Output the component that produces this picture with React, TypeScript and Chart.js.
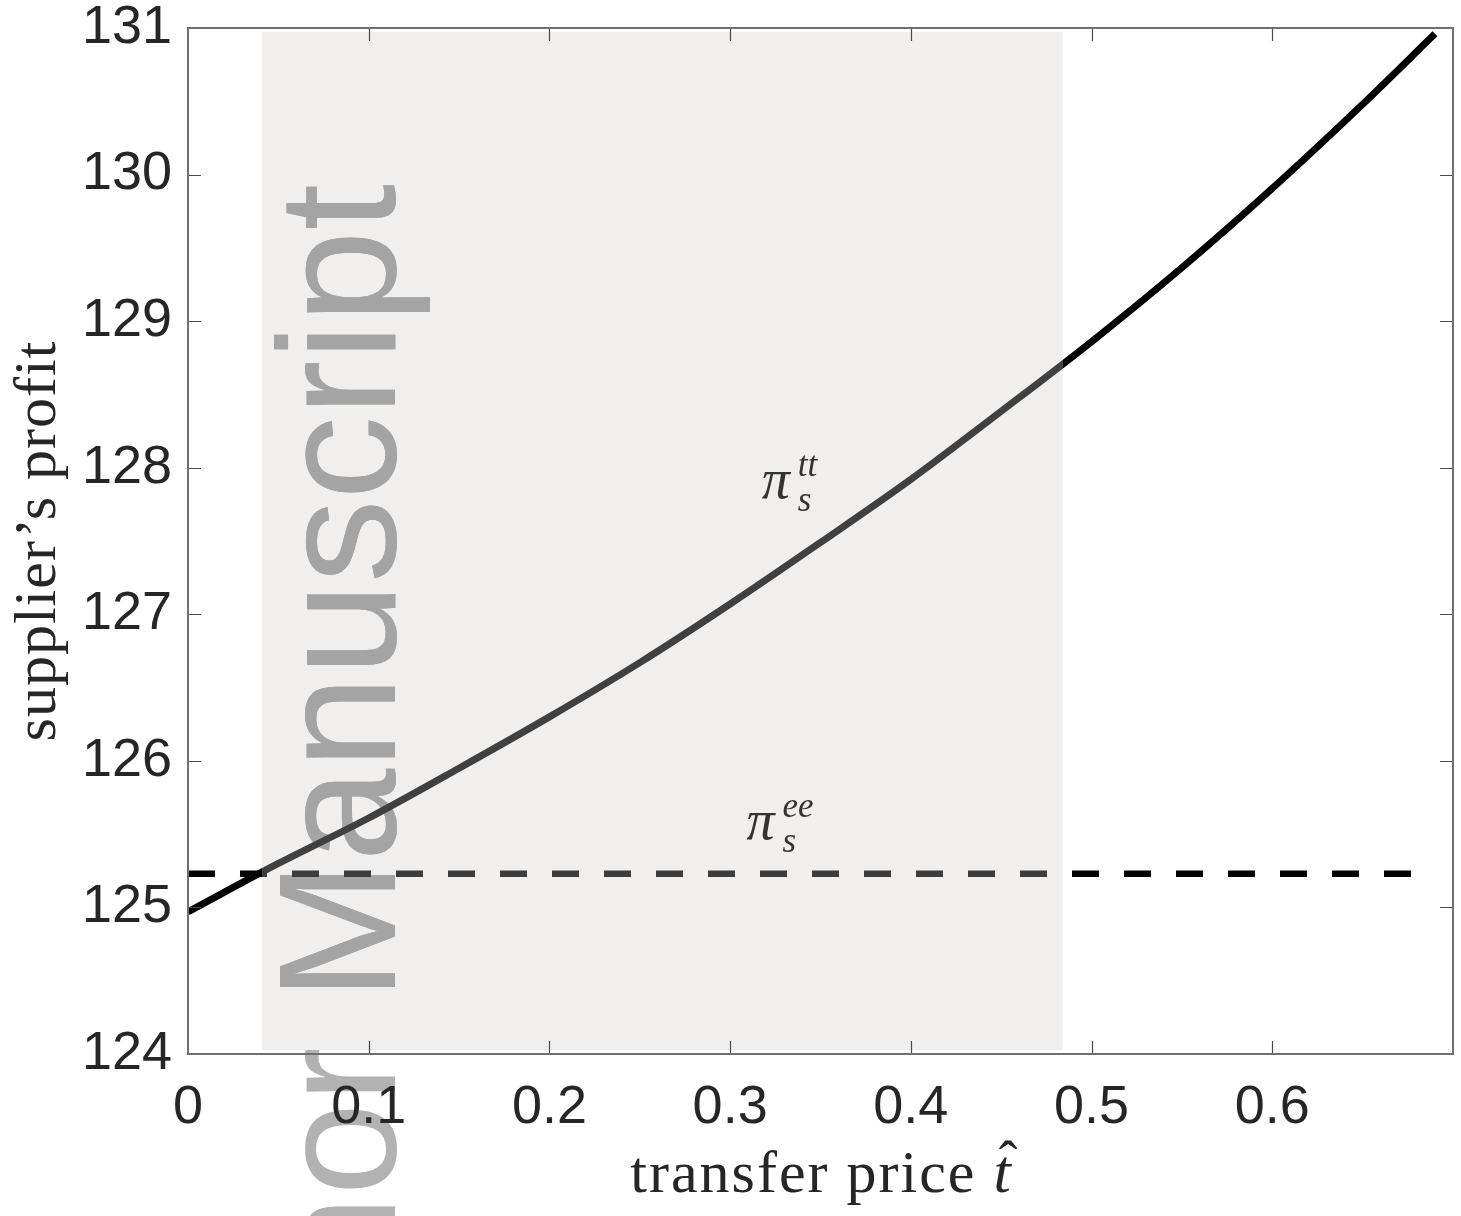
import { useEffect, useRef } from 'react';
import { Chart, registerables } from 'chart.js';

Chart.register(...registerables);

// supplier's profit under the tt contract, sampled along the transfer price
const transferPrice = [0, 0.05, 0.1, 0.15, 0.2, 0.25, 0.3, 0.35, 0.4, 0.45, 0.5, 0.55, 0.6, 0.65, 0.69];
const profitTT = [124.97, 125.3, 125.61, 125.95, 126.3, 126.67, 127.07, 127.49, 127.92, 128.385, 128.86, 129.365, 129.906, 130.48, 130.96];

// benchmark profit under the ee contract (flat in the transfer price)
const eeRange = [0, 0.69];
const profitEE = 125.23;

// axis ranges and ticks
const xRange = [0, 0.7];
const yRange = [124, 131];
const xStep = 0.1;
const yStep = 1;

// light band behind the mid range of transfer prices
const bandRange = [0.041, 0.484];

// curve label anchors (data coordinates)
const labelTT = { x: 0.3186, y: 127.79, sup: 'tt', sub: 's' };
const labelEE = { x: 0.3102, y: 125.47, sup: 'ee', sub: 's' };

const xTitle = 'transfer price ';
const xTitleVar = 't';
const yTitle = 'supplier\u2019s profit';
const watermark = 'Author Manuscript';

const SANS = '"Liberation Sans", Arial, sans-serif';
const SERIF = '"Liberation Serif", "Times New Roman", serif';

function bandStroke(ctx: any, outside: string, inside: string) {
  const chart = ctx.chart;
  const area = chart.chartArea;
  const xs = chart.scales?.x;
  if (!area || !xs) return outside;
  const w = area.right - area.left;
  const f1 = Math.min(Math.max((xs.getPixelForValue(bandRange[0]) - area.left) / w, 0), 1);
  const f2 = Math.min(Math.max((xs.getPixelForValue(bandRange[1]) - area.left) / w, 0), 1);
  const g = chart.ctx.createLinearGradient(area.left, 0, area.right, 0);
  g.addColorStop(0, outside);
  g.addColorStop(f1, outside);
  g.addColorStop(f1, inside);
  g.addColorStop(f2, inside);
  g.addColorStop(f2, outside);
  g.addColorStop(1, outside);
  return g;
}

const decorPlugin = {
  id: 'decor',
  beforeDraw(chart: any) {
    const { ctx, chartArea: a, scales } = chart;
    const xs = scales.x;
    const bx1 = xs.getPixelForValue(bandRange[0]);
    const bx2 = xs.getPixelForValue(bandRange[1]);
    const by1 = a.top + 4;
    const by2 = a.bottom - 4;
    ctx.save();
    ctx.fillStyle = '#f0efee';
    ctx.fillRect(bx1, by1, bx2 - bx1, by2 - by1);

    // rotated watermark text
    const drawMark = (color: string) => {
      ctx.save();
      ctx.translate(bx1 + 133, a.top + 156);
      ctx.rotate(-Math.PI / 2);
      ctx.font = `167px ${SANS}`;
      ctx.textAlign = 'right';
      ctx.textBaseline = 'alphabetic';
      ctx.fillStyle = color;
      ctx.fillText(watermark, 0, 0);
      ctx.restore();
    };
    drawMark('#b2b2b2');
    ctx.beginPath();
    ctx.rect(bx1, by1, bx2 - bx1, by2 - by1);
    ctx.clip();
    drawMark('#a4a4a4');
    ctx.restore();
  },
  afterDraw(chart: any) {
    const { ctx, chartArea: a, scales } = chart;
    const xs = scales.x;
    const ys = scales.y;
    ctx.save();

    // inward ticks on all four sides
    const tl = 13;
    ctx.strokeStyle = '#4a4a4a';
    ctx.lineWidth = 1.2;
    ctx.beginPath();
    xs.ticks.forEach((t: any) => {
      const px = Math.round(xs.getPixelForValue(t.value)) + 0.5;
      if (px <= a.left + 1 || px >= a.right - 1) return;
      ctx.moveTo(px, a.bottom);
      ctx.lineTo(px, a.bottom - tl);
      ctx.moveTo(px, a.top);
      ctx.lineTo(px, a.top + tl);
    });
    ys.ticks.forEach((t: any) => {
      const py = Math.round(ys.getPixelForValue(t.value)) + 0.5;
      if (py <= a.top + 1 || py >= a.bottom - 1) return;
      ctx.moveTo(a.left, py);
      ctx.lineTo(a.left + tl, py);
      ctx.moveTo(a.right, py);
      ctx.lineTo(a.right - tl, py);
    });
    ctx.stroke();

    // frame
    ctx.strokeStyle = '#707070';
    ctx.lineWidth = 2;
    ctx.strokeRect(a.left, a.top, a.right - a.left, a.bottom - a.top);

    // curve labels
    const drawPi = (lab: any) => {
      const px = xs.getPixelForValue(lab.x);
      const py = ys.getPixelForValue(lab.y);
      ctx.fillStyle = '#333333';
      ctx.textAlign = 'left';
      ctx.textBaseline = 'alphabetic';
      ctx.font = `italic 56px ${SERIF}`;
      ctx.fillText('\u03c0', px - 2, py);
      ctx.font = `italic 35px ${SERIF}`;
      ctx.fillText(lab.sup, px + 34, py - 22);
      ctx.fillText(lab.sub, px + 34, py + 13);
    };
    drawPi(labelTT);
    drawPi(labelEE);

    // x title: roman words followed by an italic t with a hat
    const cx = (a.left + a.right) / 2;
    ctx.fillStyle = '#262626';
    ctx.textBaseline = 'alphabetic';
    ctx.textAlign = 'left';
    (ctx as any).letterSpacing = '2px';
    ctx.font = `60px ${SERIF}`;
    const w1 = ctx.measureText(xTitle).width;
    (ctx as any).letterSpacing = '0px';
    ctx.font = `italic 62px ${SERIF}`;
    const w2 = ctx.measureText(xTitleVar).width;
    const x0 = cx - (w1 + w2) / 2;
    const base = 1192;
    (ctx as any).letterSpacing = '2px';
    ctx.font = `60px ${SERIF}`;
    ctx.fillText(xTitle, x0, base);
    (ctx as any).letterSpacing = '0px';
    ctx.font = `italic 62px ${SERIF}`;
    ctx.fillText(xTitleVar, x0 + w1, base);
    ctx.font = `56px ${SERIF}`;
    ctx.textAlign = 'center';
    ctx.fillText('\u02c6', x0 + w1 + w2 * 0.62 + 4, base - 12);

    // y title, rotated
    ctx.save();
    ctx.translate(55, (a.top + a.bottom) / 2);
    ctx.rotate(-Math.PI / 2);
    ctx.textAlign = 'center';
    (ctx as any).letterSpacing = '1px';
    ctx.font = `60px ${SERIF}`;
    ctx.fillText(yTitle, 0, 0);
    ctx.restore();

    ctx.restore();
  },
};

export default function App() {
  const ref = useRef<HTMLCanvasElement | null>(null);

  useEffect(() => {
    document.body.style.margin = '0';
    const canvas = ref.current;
    if (!canvas) return;

    const chart = new Chart(canvas, {
      type: 'line',
      data: {
        datasets: [
          {
            label: 'pi_s^ee',
            data: eeRange.map((x) => ({ x, y: profitEE })),
            borderColor: (c: any) => bandStroke(c, '#000000', '#3c3c3c'),
            borderWidth: 6.5,
            borderDash: [27, 25],
            borderCapStyle: 'butt',
            pointRadius: 0,
            fill: false,
          },
          {
            label: 'pi_s^tt',
            data: transferPrice.map((x, i) => ({ x, y: profitTT[i] })),
            borderColor: (c: any) => bandStroke(c, '#000000', '#404040'),
            borderWidth: 7,
            cubicInterpolationMode: 'monotone',
            borderJoinStyle: 'round',
            pointRadius: 0,
            fill: false,
          },
        ],
      },
      options: {
        responsive: false,
        animation: false,
        events: [],
        layout: { padding: { top: 28, right: 8, left: 0, bottom: 0 } },
        plugins: {
          legend: { display: false },
          tooltip: { enabled: false },
          title: { display: false },
        },
        scales: {
          x: {
            type: 'linear',
            min: xRange[0],
            max: xRange[1],
            grid: { display: false, drawTicks: false, tickLength: 0 },
            border: { display: false },
            ticks: {
              stepSize: xStep,
              padding: 22,
              color: '#262626',
              font: { family: SANS, size: 54 },
              maxRotation: 0,
              autoSkip: false,
              callback: (v: any) => String(parseFloat(Number(v).toFixed(1))),
            },
            afterBuildTicks: (s: any) => {
              s.ticks = s.ticks.filter((t: any) => t.value < xRange[1] - 0.005);
            },
            afterFit: (s: any) => {
              s.height = 162;
            },
          },
          y: {
            type: 'linear',
            min: yRange[0],
            max: yRange[1],
            grid: { display: false, drawTicks: false, tickLength: 0 },
            border: { display: false },
            ticks: {
              stepSize: yStep,
              padding: 16,
              color: '#262626',
              font: { family: SANS, size: 54, lineHeight: 0.4 },
              autoSkip: false,
            },
            afterFit: (s: any) => {
              s.width = 188;
            },
          },
        },
      },
      plugins: [decorPlugin],
    } as any);

    return () => chart.destroy();
  }, []);

  return (
    <div style={{ width: 1461, height: 1216 }}>
      <canvas ref={ref} width={1461} height={1216} style={{ display: 'block' }} />
    </div>
  );
}
